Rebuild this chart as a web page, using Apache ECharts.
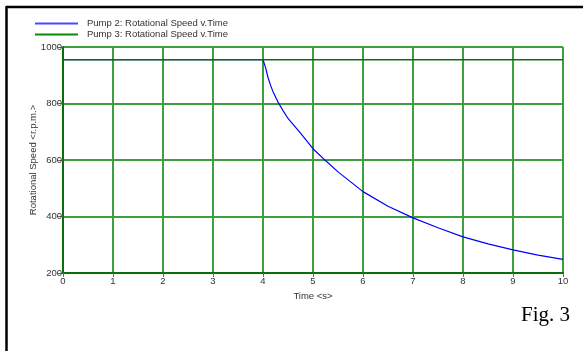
<!DOCTYPE html>
<html><head><meta charset="utf-8">
<script src="https://cdn.jsdelivr.net/npm/echarts@6/dist/echarts.min.js"></script>
<style>html,body{margin:0;padding:0;background:#fff}#c{width:583px;height:351px}</style>
</head><body><div id="c"></div>
<script>
const pump2Time = [0, 1, 2, 3, 4.0, 4.05, 4.1, 4.15, 4.2, 4.3, 4.4, 4.5, 4.75, 5.0, 5.25, 5.5, 6.0, 6.5, 7.0, 7.5, 8.0, 8.5, 9.0, 9.5, 10.0];
const pump2Speed = [955, 955, 955, 955, 955, 928, 892, 865, 842, 805, 775, 747, 695, 640, 598, 558, 488, 436, 395, 360, 328, 303, 282, 263, 248];
const pump3Time = [0, 10];
const pump3Speed = [955, 955];
const seriesNames = ['Pump 2: Rotational Speed v.Time', 'Pump 3: Rotational Speed v.Time'];
const xName = 'Time <s>';
const yName = 'Rotational Speed <r.p.m.>';
const figLabel = 'Fig. 3';

const chart = echarts.init(document.getElementById('c'), null, {renderer: 'canvas'});
const lbl = {fontFamily: 'Arial, "Liberation Sans", sans-serif', fontSize: 9.5, color: '#333'};
const gridLine = {show: true, lineStyle: {color: '#3d9f3d', width: 2}};
chart.setOption({
  animation: false,
  backgroundColor: '#fff',
  grid: {left: 63, right: 20, top: 47, bottom: 78, containLabel: false, show: false},
  legend: {
    orient: 'vertical', left: 35, top: 18.5, padding: 0, itemWidth: 43, itemHeight: 1.8, itemGap: 1,
    icon: 'rect',
    textStyle: Object.assign({}, lbl, {padding: [0, 0, 0, 4]}),
    data: [
      {name: seriesNames[0], itemStyle: {color: '#4a4aff'}},
      {name: seriesNames[1], itemStyle: {color: '#0a8a0a'}}
    ]
  },
  xAxis: {
    type: 'value', min: 0, max: 10, interval: 1,
    name: xName, nameLocation: 'middle', nameGap: 18, nameTextStyle: lbl,
    axisLine: {show: true, lineStyle: {color: '#0a6e0a', width: 2}},
    axisTick: {show: true, length: 4, lineStyle: {color: '#666'}},
    axisLabel: Object.assign({margin: 3, formatter: v => String(v)}, lbl),
    splitLine: gridLine
  },
  yAxis: {
    type: 'value', min: 200, max: 1000, interval: 200,
    name: yName, nameLocation: 'middle', nameGap: 25, nameMoveOverlap: false, nameRotate: 90, nameTextStyle: lbl,
    axisLine: {show: true, lineStyle: {color: '#0a6e0a', width: 2}},
    axisTick: {show: true, length: 5, lineStyle: {color: '#666'}},
    axisLabel: Object.assign({margin: 1, formatter: v => String(v)}, lbl),
    splitLine: gridLine
  },
  series: [
    {name: seriesNames[0], type: 'line', symbol: 'none', showSymbol: false, smooth: false,
     lineStyle: {color: '#0000ff', width: 1.2}, itemStyle: {color: '#0000ff'},
     data: pump2Time.map((t, i) => [t, pump2Speed[i]])},
    {name: seriesNames[1], type: 'line', symbol: 'none', showSymbol: false,
     lineStyle: {color: '#0a700a', width: 1.5}, itemStyle: {color: '#0a700a'},
     data: pump3Time.map((t, i) => [t, pump3Speed[i]])}
  ],
  graphic: [
    {type: 'line', shape: {x1: 6, y1: 7, x2: 583, y2: 7}, style: {stroke: '#000', lineWidth: 2.5}},
    {type: 'line', shape: {x1: 6.5, y1: 6, x2: 6.5, y2: 351}, style: {stroke: '#000', lineWidth: 2.5}},
    {type: 'text', left: 521, top: 305, style: {text: figLabel, font: '21px "Liberation Serif", "Times New Roman", serif', fill: '#000'}}
  ]
});
</script></body></html>
